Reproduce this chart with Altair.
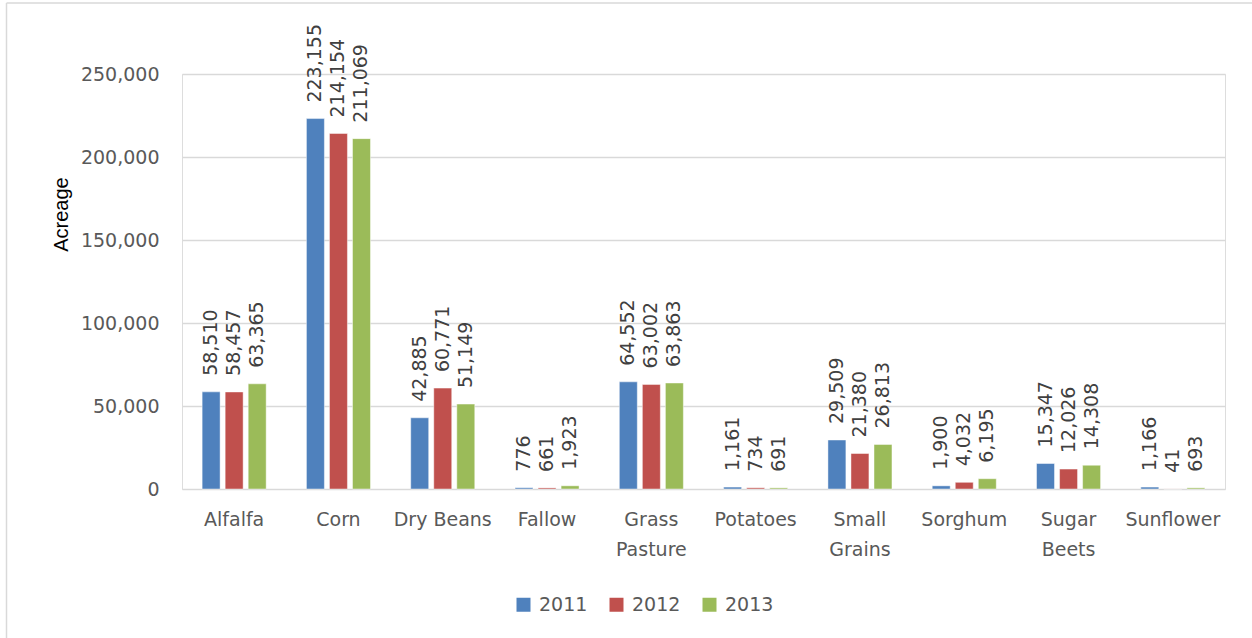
import altair as alt
import pandas as pd

# Irrigated acreage by crop, 2011-2013
crops = ["Alfalfa", "Corn", "Dry Beans", "Fallow", "Grass Pasture",
         "Potatoes", "Small Grains", "Sorghum", "Sugar Beets", "Sunflower"]
years = ["2011", "2012", "2013"]
acres_2011 = [58510, 223155, 42885, 776, 64552, 1161, 29509, 1900, 15347, 1166]
acres_2012 = [58457, 214154, 60771, 661, 63002, 734, 21380, 4032, 12026, 41]
acres_2013 = [63365, 211069, 51149, 1923, 63863, 691, 26813, 6195, 14308, 693]
y_ticks = [0, 50000, 100000, 150000, 200000, 250000]
colors = ["#4F81BD", "#C0504D", "#9BBB59"]

rows = []
for year, series in zip(years, [acres_2011, acres_2012, acres_2013]):
    for crop, val in zip(crops, series):
        rows.append({"crop": crop, "year": year, "acres": val})
df = pd.DataFrame(rows)

FONT = "DejaVu Sans"
GRAY = "#595959"
GRID = "#d9d9d9"

two_line = "indexof(['Grass Pasture','Small Grains','Sugar Beets'], datum.value) >= 0 ? split(datum.value, ' ') : datum.value"

x_enc = alt.X(
    "crop:N", sort=crops, title=None,
    scale=alt.Scale(paddingInner=0.386, paddingOuter=0.193),
    axis=alt.Axis(labelAngle=0, labelFont=FONT, labelFontSize=19, labelColor=GRAY,
                  labelPadding=21, labelLineHeight=30, labelBaseline="top",
                  ticks=False, domain=False, grid=False, labelExpr=two_line,
                  labelOverlap=False),
)
xo_enc = alt.XOffset("year:N", sort=years,
                     scale=alt.Scale(paddingInner=0.22, paddingOuter=0))
y_enc = alt.Y(
    "acres:Q",
    scale=alt.Scale(domain=[0, 250000], nice=False),
    axis=alt.Axis(values=y_ticks, format=",.0f",
                  labelFont=FONT, labelFontSize=19, labelColor=GRAY, labelPadding=23,
                  ticks=False, domain=False, gridColor=GRID, gridWidth=1.5,
                  title="Acreage", titleFont="Liberation Sans",
                  titleFontSize=20, titleFontWeight="normal", titleColor="black",
                  titleX=-121, titleY=140, titleAngle=270,
                  titleAlign="center", titleBaseline="middle"),
)

bars = alt.Chart(df).mark_bar(stroke="white", strokeWidth=1, strokeOpacity=0.45).encode(
    x=x_enc,
    xOffset=xo_enc,
    y=y_enc,
    color=alt.Color(
        "year:N", sort=years,
        scale=alt.Scale(domain=years, range=colors),
        legend=alt.Legend(title=None, orient="none", legendX=332, legendY=521,
                          direction="horizontal", symbolType="square", symbolSize=196,
                          symbolStrokeWidth=0, labelFont=FONT, labelFontSize=19,
                          labelColor=GRAY, columnPadding=19, labelOffset=6, padding=0),
    ),
)

labels = alt.Chart(df).mark_text(
    angle=270, align="left", baseline="middle", dx=16,
    font=FONT, fontSize=19, color="#404040",
).encode(
    x=x_enc,
    xOffset=xo_enc,
    y=y_enc,
    text=alt.Text("acres:Q", format=","),
)

# Light frame around the chart (left and top edges)
frame_df = pd.DataFrame({"k": [0]})
frame_left = alt.Chart(frame_df).mark_rule(color=GRID, strokeWidth=1.5).encode(
    x=alt.value(-175.5), y=alt.value(-71), y2=alt.value(570)
)
frame_top = alt.Chart(frame_df).mark_rule(color=GRID, strokeWidth=1.5).encode(
    x=alt.value(-175.5), x2=alt.value(1080), y=alt.value(-71)
)

chart = alt.layer(bars, labels, frame_left, frame_top).properties(
    width=1043, height=415,
    autosize=alt.AutoSizeParams(type="none"),
    padding={"left": 182, "top": 74, "right": 27, "bottom": 149},
).configure_view(strokeWidth=0).configure(background="white")

chart.save("out.html", embed_options={"renderer": "svg", "actions": False})
